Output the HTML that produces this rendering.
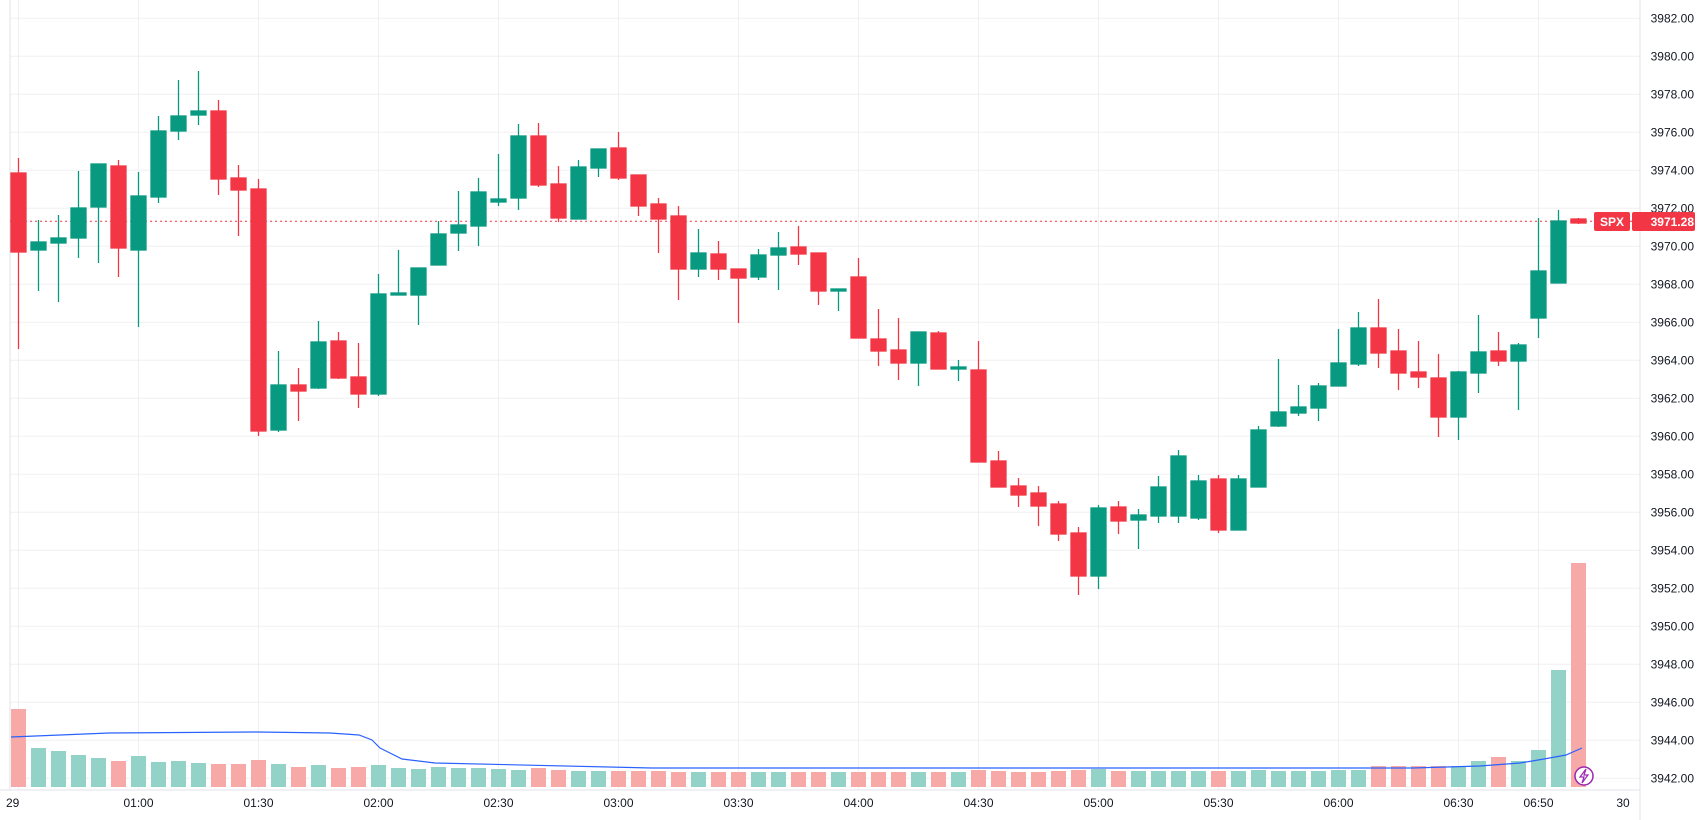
<!DOCTYPE html>
<html><head><meta charset="utf-8"><style>
html,body{margin:0;padding:0;background:#fff;}
svg{display:block;font-family:"Liberation Sans",sans-serif;}
</style></head><body>
<svg width="1705" height="820" viewBox="0 0 1705 820" xmlns="http://www.w3.org/2000/svg">
<rect width="1705" height="820" fill="#fff"/>
<g stroke="#f0f0f3" stroke-width="1">
<line x1="10" y1="18.3" x2="1640" y2="18.3"/><line x1="10" y1="56.3" x2="1640" y2="56.3"/><line x1="10" y1="94.3" x2="1640" y2="94.3"/><line x1="10" y1="132.3" x2="1640" y2="132.3"/><line x1="10" y1="170.3" x2="1640" y2="170.3"/><line x1="10" y1="208.3" x2="1640" y2="208.3"/><line x1="10" y1="246.3" x2="1640" y2="246.3"/><line x1="10" y1="284.3" x2="1640" y2="284.3"/><line x1="10" y1="322.3" x2="1640" y2="322.3"/><line x1="10" y1="360.3" x2="1640" y2="360.3"/><line x1="10" y1="398.3" x2="1640" y2="398.3"/><line x1="10" y1="436.3" x2="1640" y2="436.3"/><line x1="10" y1="474.3" x2="1640" y2="474.3"/><line x1="10" y1="512.3" x2="1640" y2="512.3"/><line x1="10" y1="550.3" x2="1640" y2="550.3"/><line x1="10" y1="588.3" x2="1640" y2="588.3"/><line x1="10" y1="626.3" x2="1640" y2="626.3"/><line x1="10" y1="664.3" x2="1640" y2="664.3"/><line x1="10" y1="702.3" x2="1640" y2="702.3"/><line x1="10" y1="740.3" x2="1640" y2="740.3"/><line x1="10" y1="778.3" x2="1640" y2="778.3"/>
<line x1="18.5" y1="0" x2="18.5" y2="790"/><line x1="138.5" y1="0" x2="138.5" y2="790"/><line x1="258.5" y1="0" x2="258.5" y2="790"/><line x1="378.5" y1="0" x2="378.5" y2="790"/><line x1="498.5" y1="0" x2="498.5" y2="790"/><line x1="618.5" y1="0" x2="618.5" y2="790"/><line x1="738.5" y1="0" x2="738.5" y2="790"/><line x1="858.5" y1="0" x2="858.5" y2="790"/><line x1="978.5" y1="0" x2="978.5" y2="790"/><line x1="1098.5" y1="0" x2="1098.5" y2="790"/><line x1="1218.5" y1="0" x2="1218.5" y2="790"/><line x1="1338.5" y1="0" x2="1338.5" y2="790"/><line x1="1458.5" y1="0" x2="1458.5" y2="790"/><line x1="1538.5" y1="0" x2="1538.5" y2="790"/>
</g>
<line x1="10" y1="0" x2="10" y2="790" stroke="#e0e3eb"/>
<line x1="0" y1="790" x2="1640" y2="790" stroke="#e0e3eb"/>
<line x1="1640" y1="0" x2="1640" y2="820" stroke="#e0e3eb"/>
<!-- volume -->
<g>
<rect x="11" y="709" width="15" height="78" fill="#f7a9a7"/><rect x="31" y="748" width="15" height="39" fill="#92d2c7"/><rect x="51" y="751" width="15" height="36" fill="#92d2c7"/><rect x="71" y="755" width="15" height="32" fill="#92d2c7"/><rect x="91" y="758" width="15" height="29" fill="#92d2c7"/><rect x="111" y="761" width="15" height="26" fill="#f7a9a7"/><rect x="131" y="756" width="15" height="31" fill="#92d2c7"/><rect x="151" y="762" width="15" height="25" fill="#92d2c7"/><rect x="171" y="761" width="15" height="26" fill="#92d2c7"/><rect x="191" y="763" width="15" height="24" fill="#92d2c7"/><rect x="211" y="764" width="15" height="23" fill="#f7a9a7"/><rect x="231" y="764" width="15" height="23" fill="#f7a9a7"/><rect x="251" y="760" width="15" height="27" fill="#f7a9a7"/><rect x="271" y="764" width="15" height="23" fill="#92d2c7"/><rect x="291" y="767" width="15" height="20" fill="#f7a9a7"/><rect x="311" y="765" width="15" height="22" fill="#92d2c7"/><rect x="331" y="768" width="15" height="19" fill="#f7a9a7"/><rect x="351" y="767" width="15" height="20" fill="#f7a9a7"/><rect x="371" y="765" width="15" height="22" fill="#92d2c7"/><rect x="391" y="768" width="15" height="19" fill="#92d2c7"/><rect x="411" y="769" width="15" height="18" fill="#92d2c7"/><rect x="431" y="767" width="15" height="20" fill="#92d2c7"/><rect x="451" y="768" width="15" height="19" fill="#92d2c7"/><rect x="471" y="768" width="15" height="19" fill="#92d2c7"/><rect x="491" y="769" width="15" height="18" fill="#92d2c7"/><rect x="511" y="770" width="15" height="17" fill="#92d2c7"/><rect x="531" y="768" width="15" height="19" fill="#f7a9a7"/><rect x="551" y="770" width="15" height="17" fill="#f7a9a7"/><rect x="571" y="771" width="15" height="16" fill="#92d2c7"/><rect x="591" y="771" width="15" height="16" fill="#92d2c7"/><rect x="611" y="771" width="15" height="16" fill="#f7a9a7"/><rect x="631" y="771" width="15" height="16" fill="#f7a9a7"/><rect x="651" y="771" width="15" height="16" fill="#f7a9a7"/><rect x="671" y="772" width="15" height="15" fill="#f7a9a7"/><rect x="691" y="772" width="15" height="15" fill="#92d2c7"/><rect x="711" y="772" width="15" height="15" fill="#f7a9a7"/><rect x="731" y="772" width="15" height="15" fill="#f7a9a7"/><rect x="751" y="772" width="15" height="15" fill="#92d2c7"/><rect x="771" y="772" width="15" height="15" fill="#92d2c7"/><rect x="791" y="772" width="15" height="15" fill="#f7a9a7"/><rect x="811" y="772" width="15" height="15" fill="#f7a9a7"/><rect x="831" y="772" width="15" height="15" fill="#92d2c7"/><rect x="851" y="772" width="15" height="15" fill="#f7a9a7"/><rect x="871" y="772" width="15" height="15" fill="#f7a9a7"/><rect x="891" y="772" width="15" height="15" fill="#f7a9a7"/><rect x="911" y="772" width="15" height="15" fill="#92d2c7"/><rect x="931" y="772" width="15" height="15" fill="#f7a9a7"/><rect x="951" y="772" width="15" height="15" fill="#92d2c7"/><rect x="971" y="770" width="15" height="17" fill="#f7a9a7"/><rect x="991" y="771" width="15" height="16" fill="#f7a9a7"/><rect x="1011" y="772" width="15" height="15" fill="#f7a9a7"/><rect x="1031" y="772" width="15" height="15" fill="#f7a9a7"/><rect x="1051" y="771" width="15" height="16" fill="#f7a9a7"/><rect x="1071" y="770" width="15" height="17" fill="#f7a9a7"/><rect x="1091" y="769" width="15" height="18" fill="#92d2c7"/><rect x="1111" y="771" width="15" height="16" fill="#f7a9a7"/><rect x="1131" y="771" width="15" height="16" fill="#92d2c7"/><rect x="1151" y="771" width="15" height="16" fill="#92d2c7"/><rect x="1171" y="771" width="15" height="16" fill="#92d2c7"/><rect x="1191" y="771" width="15" height="16" fill="#92d2c7"/><rect x="1211" y="771" width="15" height="16" fill="#f7a9a7"/><rect x="1231" y="771" width="15" height="16" fill="#92d2c7"/><rect x="1251" y="770" width="15" height="17" fill="#92d2c7"/><rect x="1271" y="771" width="15" height="16" fill="#92d2c7"/><rect x="1291" y="771" width="15" height="16" fill="#92d2c7"/><rect x="1311" y="771" width="15" height="16" fill="#92d2c7"/><rect x="1331" y="770" width="15" height="17" fill="#92d2c7"/><rect x="1351" y="770" width="15" height="17" fill="#92d2c7"/><rect x="1371" y="766" width="15" height="21" fill="#f7a9a7"/><rect x="1391" y="766" width="15" height="21" fill="#f7a9a7"/><rect x="1411" y="766" width="15" height="21" fill="#f7a9a7"/><rect x="1431" y="766" width="15" height="21" fill="#f7a9a7"/><rect x="1451" y="766" width="15" height="21" fill="#92d2c7"/><rect x="1471" y="761" width="15" height="26" fill="#92d2c7"/><rect x="1491" y="757" width="15" height="30" fill="#f7a9a7"/><rect x="1511" y="761" width="15" height="26" fill="#92d2c7"/><rect x="1531" y="750" width="15" height="37" fill="#92d2c7"/><rect x="1551" y="670" width="15" height="117" fill="#92d2c7"/><rect x="1571" y="563" width="15" height="224" fill="#f7a9a7"/>
</g>
<polyline fill="none" stroke="#2962ff" stroke-width="1.2" points="11,737 60,735 109,733 258,732 330,733 359,735 372,740 380,748 402,759 435,763 652,768 1413,768 1480,766 1520,763 1544,759 1566,755 1582,748"/>
<!-- price line -->
<line x1="10" y1="221.3" x2="1640" y2="221.3" stroke="#f23645" stroke-width="1" stroke-dasharray="2,3"/>
<!-- candles -->
<g stroke-width="1.3">
<g stroke="#089981" fill="#089981">
<line x1="38.5" y1="220" x2="38.5" y2="291"/><rect x="31" y="242" width="15" height="8"/>
<line x1="58.5" y1="215" x2="58.5" y2="302"/><rect x="51" y="238" width="15" height="5"/>
<line x1="78.5" y1="171" x2="78.5" y2="258"/><rect x="71" y="208" width="15" height="30"/>
<line x1="98.5" y1="164" x2="98.5" y2="263"/><rect x="91" y="164" width="15" height="43"/>
<line x1="138.5" y1="172" x2="138.5" y2="327"/><rect x="131" y="196" width="15" height="54"/>
<line x1="158.5" y1="116" x2="158.5" y2="203"/><rect x="151" y="131" width="15" height="66"/>
<line x1="178.5" y1="80" x2="178.5" y2="140"/><rect x="171" y="116" width="15" height="15"/>
<line x1="198.5" y1="71" x2="198.5" y2="125"/><rect x="191" y="111" width="15" height="4"/>
<line x1="278.5" y1="351" x2="278.5" y2="432"/><rect x="271" y="385" width="15" height="45"/>
<line x1="318.5" y1="321" x2="318.5" y2="389"/><rect x="311" y="342" width="15" height="46"/>
<line x1="378.5" y1="274" x2="378.5" y2="396"/><rect x="371" y="294" width="15" height="100"/>
<line x1="398.5" y1="250" x2="398.5" y2="295"/><rect x="391" y="293" width="15" height="2"/>
<line x1="418.5" y1="268" x2="418.5" y2="325"/><rect x="411" y="268" width="15" height="27"/>
<line x1="438.5" y1="221" x2="438.5" y2="265"/><rect x="431" y="234" width="15" height="31"/>
<line x1="458.5" y1="191" x2="458.5" y2="251"/><rect x="451" y="225" width="15" height="8"/>
<line x1="478.5" y1="178" x2="478.5" y2="246"/><rect x="471" y="192" width="15" height="34"/>
<line x1="498.5" y1="154" x2="498.5" y2="206"/><rect x="491" y="199" width="15" height="3"/>
<line x1="518.5" y1="124" x2="518.5" y2="210"/><rect x="511" y="136" width="15" height="62"/>
<line x1="578.5" y1="160" x2="578.5" y2="219"/><rect x="571" y="167" width="15" height="52"/>
<line x1="598.5" y1="149" x2="598.5" y2="177"/><rect x="591" y="149" width="15" height="19"/>
<line x1="698.5" y1="229" x2="698.5" y2="277"/><rect x="691" y="253" width="15" height="16"/>
<line x1="758.5" y1="249" x2="758.5" y2="280"/><rect x="751" y="255" width="15" height="22"/>
<line x1="778.5" y1="232" x2="778.5" y2="290"/><rect x="771" y="248" width="15" height="7"/>
<line x1="838.5" y1="289" x2="838.5" y2="311"/><rect x="831" y="289" width="15" height="2"/>
<line x1="918.5" y1="332" x2="918.5" y2="386"/><rect x="911" y="332" width="15" height="31"/>
<line x1="958.5" y1="360" x2="958.5" y2="381"/><rect x="951" y="367" width="15" height="2"/>
<line x1="1098.5" y1="505" x2="1098.5" y2="589"/><rect x="1091" y="508" width="15" height="68"/>
<line x1="1138.5" y1="509" x2="1138.5" y2="549"/><rect x="1131" y="515" width="15" height="5"/>
<line x1="1158.5" y1="476" x2="1158.5" y2="523"/><rect x="1151" y="487" width="15" height="29"/>
<line x1="1178.5" y1="450" x2="1178.5" y2="523"/><rect x="1171" y="456" width="15" height="60"/>
<line x1="1198.5" y1="475" x2="1198.5" y2="520"/><rect x="1191" y="481" width="15" height="37"/>
<line x1="1238.5" y1="475" x2="1238.5" y2="530"/><rect x="1231" y="479" width="15" height="51"/>
<line x1="1258.5" y1="426" x2="1258.5" y2="487"/><rect x="1251" y="430" width="15" height="57"/>
<line x1="1278.5" y1="359" x2="1278.5" y2="427"/><rect x="1271" y="412" width="15" height="14"/>
<line x1="1298.5" y1="385" x2="1298.5" y2="416"/><rect x="1291" y="407" width="15" height="6"/>
<line x1="1318.5" y1="383" x2="1318.5" y2="421"/><rect x="1311" y="386" width="15" height="22"/>
<line x1="1338.5" y1="329" x2="1338.5" y2="386"/><rect x="1331" y="363" width="15" height="23"/>
<line x1="1358.5" y1="312" x2="1358.5" y2="366"/><rect x="1351" y="328" width="15" height="36"/>
<line x1="1458.5" y1="371" x2="1458.5" y2="440"/><rect x="1451" y="372" width="15" height="45"/>
<line x1="1478.5" y1="315" x2="1478.5" y2="393"/><rect x="1471" y="352" width="15" height="21"/>
<line x1="1518.5" y1="343" x2="1518.5" y2="410"/><rect x="1511" y="345" width="15" height="16"/>
<line x1="1538.5" y1="218" x2="1538.5" y2="338"/><rect x="1531" y="271" width="15" height="47"/>
<line x1="1558.5" y1="210" x2="1558.5" y2="283"/><rect x="1551" y="221" width="15" height="62"/>
</g>
<g stroke="#f23645" fill="#f23645">
<line x1="18.5" y1="158" x2="18.5" y2="349"/><rect x="11" y="173" width="15" height="79"/>
<line x1="118.5" y1="160" x2="118.5" y2="277"/><rect x="111" y="166" width="15" height="82"/>
<line x1="218.5" y1="100" x2="218.5" y2="195"/><rect x="211" y="111" width="15" height="68"/>
<line x1="238.5" y1="165" x2="238.5" y2="236"/><rect x="231" y="178" width="15" height="12"/>
<line x1="258.5" y1="179" x2="258.5" y2="436"/><rect x="251" y="189" width="15" height="242"/>
<line x1="298.5" y1="368" x2="298.5" y2="421"/><rect x="291" y="385" width="15" height="6"/>
<line x1="338.5" y1="332" x2="338.5" y2="379"/><rect x="331" y="341" width="15" height="37"/>
<line x1="358.5" y1="343" x2="358.5" y2="408"/><rect x="351" y="377" width="15" height="17"/>
<line x1="538.5" y1="123" x2="538.5" y2="187"/><rect x="531" y="136" width="15" height="49"/>
<line x1="558.5" y1="166" x2="558.5" y2="222"/><rect x="551" y="184" width="15" height="34"/>
<line x1="618.5" y1="132" x2="618.5" y2="180"/><rect x="611" y="148" width="15" height="30"/>
<line x1="638.5" y1="175" x2="638.5" y2="216"/><rect x="631" y="175" width="15" height="31"/>
<line x1="658.5" y1="198" x2="658.5" y2="253"/><rect x="651" y="204" width="15" height="15"/>
<line x1="678.5" y1="206" x2="678.5" y2="300"/><rect x="671" y="216" width="15" height="53"/>
<line x1="718.5" y1="241" x2="718.5" y2="280"/><rect x="711" y="254" width="15" height="15"/>
<line x1="738.5" y1="269" x2="738.5" y2="323"/><rect x="731" y="269" width="15" height="9"/>
<line x1="798.5" y1="226" x2="798.5" y2="265"/><rect x="791" y="247" width="15" height="7"/>
<line x1="818.5" y1="253" x2="818.5" y2="305"/><rect x="811" y="253" width="15" height="38"/>
<line x1="858.5" y1="258" x2="858.5" y2="338"/><rect x="851" y="277" width="15" height="61"/>
<line x1="878.5" y1="309" x2="878.5" y2="366"/><rect x="871" y="339" width="15" height="12"/>
<line x1="898.5" y1="318" x2="898.5" y2="380"/><rect x="891" y="350" width="15" height="13"/>
<line x1="938.5" y1="331" x2="938.5" y2="369"/><rect x="931" y="333" width="15" height="36"/>
<line x1="978.5" y1="341" x2="978.5" y2="462"/><rect x="971" y="370" width="15" height="92"/>
<line x1="998.5" y1="451" x2="998.5" y2="487"/><rect x="991" y="461" width="15" height="26"/>
<line x1="1018.5" y1="478" x2="1018.5" y2="507"/><rect x="1011" y="486" width="15" height="9"/>
<line x1="1038.5" y1="486" x2="1038.5" y2="526"/><rect x="1031" y="493" width="15" height="13"/>
<line x1="1058.5" y1="501" x2="1058.5" y2="541"/><rect x="1051" y="504" width="15" height="30"/>
<line x1="1078.5" y1="527" x2="1078.5" y2="595"/><rect x="1071" y="533" width="15" height="43"/>
<line x1="1118.5" y1="501" x2="1118.5" y2="534"/><rect x="1111" y="507" width="15" height="14"/>
<line x1="1218.5" y1="475" x2="1218.5" y2="533"/><rect x="1211" y="479" width="15" height="51"/>
<line x1="1378.5" y1="299" x2="1378.5" y2="368"/><rect x="1371" y="328" width="15" height="25"/>
<line x1="1398.5" y1="329" x2="1398.5" y2="390"/><rect x="1391" y="351" width="15" height="22"/>
<line x1="1418.5" y1="341" x2="1418.5" y2="388"/><rect x="1411" y="372" width="15" height="5"/>
<line x1="1438.5" y1="354" x2="1438.5" y2="437"/><rect x="1431" y="378" width="15" height="39"/>
<line x1="1498.5" y1="332" x2="1498.5" y2="366"/><rect x="1491" y="351" width="15" height="10"/>
<line x1="1578.5" y1="218" x2="1578.5" y2="224"/><rect x="1571" y="219" width="15" height="4"/>
</g>
</g>
<!-- price axis labels -->
<g font-size="12" fill="#131722" text-anchor="end">
<text x="1694" y="22.5">3982.00</text><text x="1694" y="60.5">3980.00</text><text x="1694" y="98.5">3978.00</text><text x="1694" y="136.5">3976.00</text><text x="1694" y="174.5">3974.00</text><text x="1694" y="212.5">3972.00</text><text x="1694" y="250.5">3970.00</text><text x="1694" y="288.5">3968.00</text><text x="1694" y="326.5">3966.00</text><text x="1694" y="364.5">3964.00</text><text x="1694" y="402.5">3962.00</text><text x="1694" y="440.5">3960.00</text><text x="1694" y="478.5">3958.00</text><text x="1694" y="516.5">3956.00</text><text x="1694" y="554.5">3954.00</text><text x="1694" y="592.5">3952.00</text><text x="1694" y="630.5">3950.00</text><text x="1694" y="668.5">3948.00</text><text x="1694" y="706.5">3946.00</text><text x="1694" y="744.5">3944.00</text><text x="1694" y="782.5">3942.00</text>
</g>
<rect x="1594" y="212" width="36" height="19" rx="2" fill="#f23645"/>
<text x="1612" y="226" font-size="12" font-weight="bold" fill="#fff" text-anchor="middle">SPX</text>
<rect x="1632" y="212" width="63" height="19" rx="2" fill="#f23645"/>
<text x="1694" y="226" font-size="12" font-weight="bold" fill="#fff" text-anchor="end">3971.28</text>
<!-- time labels -->
<g font-size="12" fill="#131722" text-anchor="middle">
<text x="6" y="807" text-anchor="start">29</text>
<text x="138.5" y="807">01:00</text><text x="258.5" y="807">01:30</text><text x="378.5" y="807">02:00</text><text x="498.5" y="807">02:30</text><text x="618.5" y="807">03:00</text><text x="738.5" y="807">03:30</text><text x="858.5" y="807">04:00</text><text x="978.5" y="807">04:30</text><text x="1098.5" y="807">05:00</text><text x="1218.5" y="807">05:30</text><text x="1338.5" y="807">06:00</text><text x="1458.5" y="807">06:30</text><text x="1538.5" y="807">06:50</text><text x="1623" y="807">30</text>
</g>
<circle cx="1584" cy="776" r="9" fill="#fff" stroke="#9c27b0" stroke-width="1.5"/>
<path d="M1586 769 L1580 777 L1584 777 L1582 783 L1588 775 L1584 775 Z" fill="none" stroke="#9c27b0" stroke-width="1.2"/>
</svg>
</body></html>
